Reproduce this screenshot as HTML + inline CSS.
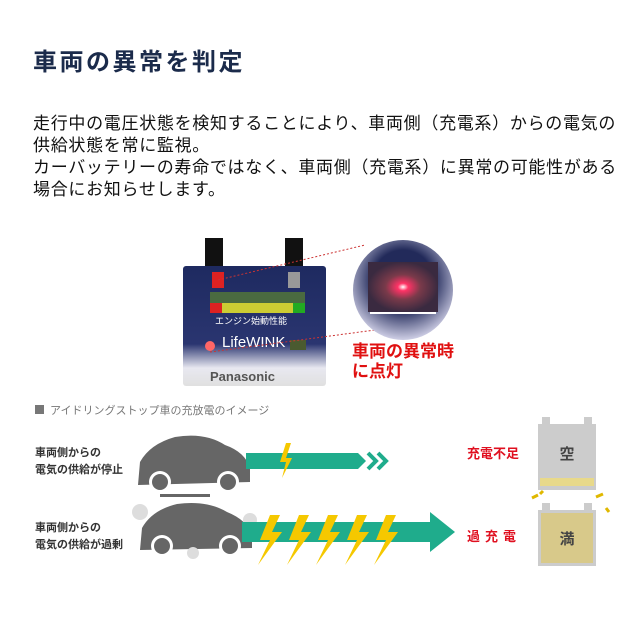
<!DOCTYPE html><html><head><meta charset="utf-8"><style>
body{margin:0;width:640px;height:640px;background:#fff;font-family:"Liberation Sans","Noto Sans CJK JP",sans-serif;position:relative;overflow:hidden}
.a{position:absolute;white-space:nowrap}
</style></head><body>
<div class="a" style="left:33px;top:42px;font-size:24px;letter-spacing:2.5px;font-weight:bold;color:#1b2b4b">車両の異常を判定</div>
<div class="a" style="left:33px;top:113px;font-size:17px;letter-spacing:0.7px;line-height:22px;color:#111">走行中の電圧状態を検知することにより、車両側（充電系）からの電気の<br>供給状態を常に監視。<br>カーバッテリーの寿命ではなく、車両側（充電系）に異常の可能性がある<br>場合にお知らせします。</div>
<svg class="a" style="left:0;top:0" width="640" height="640">
<defs><radialGradient id="g" cx="50%" cy="50%" r="50%"><stop offset="0" stop-color="#fff"/><stop offset="0.15" stop-color="#f36"/><stop offset="0.5" stop-color="#7a3a4a"/><stop offset="1" stop-color="#3a2a40"/></radialGradient>
<radialGradient id="c" cx="50%" cy="40%" r="60%"><stop offset="0.5" stop-color="#222a5a"/><stop offset="1" stop-color="#cfcfe6"/></radialGradient>
<linearGradient id="b" x1="0" y1="0" x2="0" y2="1"><stop offset="0" stop-color="#1e2a60"/><stop offset="0.65" stop-color="#2a3570"/><stop offset="0.85" stop-color="#e8e8f0"/><stop offset="1" stop-color="#e0e0e0"/></linearGradient></defs>
<rect x="205" y="238" width="18" height="32" fill="#111"/><rect x="285" y="238" width="18" height="32" fill="#111"/>
<rect x="183" y="266" width="143" height="120" rx="3" fill="url(#b)"/>
<rect x="212" y="272" width="12" height="16" fill="#d22"/><rect x="288" y="272" width="12" height="16" fill="#999"/>
<rect x="210" y="292" width="95" height="12" fill="#4a6a40"/><rect x="210" y="303" width="95" height="10" fill="#cc3"/><rect x="210" y="303" width="12" height="10" fill="#d22"/><rect x="293" y="303" width="12" height="10" fill="#2a2"/>
<text x="215" y="324" font-size="9" fill="#fff">エンジン始動性能</text>
<text x="222" y="347" font-size="15" fill="#fff">LifeWINK</text>
<circle cx="210" cy="346" r="5" fill="#f66"/><rect x="290" y="340" width="16" height="10" fill="#4a5a30"/>
<text x="210" y="381" font-size="13" font-weight="bold" fill="#555">Panasonic</text>
<line x1="218" y1="280" x2="365" y2="245" stroke="#c33" stroke-dasharray="2,2"/><line x1="210" y1="352" x2="375" y2="330" stroke="#c33" stroke-dasharray="2,2"/>
<circle cx="403" cy="290" r="50" fill="url(#c)"/>
<rect x="368" y="262" width="70" height="50" fill="url(#g)"/><rect x="370" y="312" width="66" height="2" fill="#fff"/>
<text x="352" y="357" font-size="17" font-weight="bold" fill="#e01010">車両の異常時</text>
<text x="352" y="377" font-size="17" font-weight="bold" fill="#e01010">に点灯</text>
<rect x="35" y="405" width="9" height="9" fill="#777"/><text x="50" y="414" font-size="11" fill="#777">アイドリングストップ車の充放電のイメージ</text>
<text x="35" y="456" font-size="11" font-weight="bold" fill="#333">車両側からの</text><text x="35" y="473" font-size="11" font-weight="bold" fill="#333">電気の供給が停止</text>
<text x="35" y="531" font-size="11" font-weight="bold" fill="#333">車両側からの</text><text x="35" y="548" font-size="11" font-weight="bold" fill="#333">電気の供給が過剰</text>
<g fill="#666"><path d="M138 485 L140 462 Q150 444 175 437 Q205 432 225 445 Q245 452 250 468 L250 482 Z"/><circle cx="160" cy="482" r="11" fill="#fff"/><circle cx="160" cy="482" r="8"/><circle cx="228" cy="482" r="11" fill="#fff"/><circle cx="228" cy="482" r="8"/><rect x="160" y="494" width="50" height="3"/></g>
<path d="M246 453 L358 453 L366 461 L358 469 L246 469 Z" fill="#1fac8c"/>
<path d="M368 453 L376 461 L368 469 M378 453 L386 461 L378 469" stroke="#1fac8c" stroke-width="4" fill="none"/>
<path d="M286 443 L280 462 L286 462 L282 478 L292 458 L286 458 L291 443 Z" fill="#f5c800"/>
<g fill="#666"><path d="M140 550 L142 528 Q152 510 177 504 Q207 500 227 512 Q247 520 252 535 L252 548 Z"/><circle cx="162" cy="546" r="11" fill="#fff"/><circle cx="162" cy="546" r="8"/><circle cx="230" cy="546" r="11" fill="#fff"/><circle cx="230" cy="546" r="8"/></g>
<circle cx="140" cy="512" r="8" fill="#ddd"/><circle cx="250" cy="520" r="7" fill="#ddd"/><circle cx="193" cy="553" r="6" fill="#ddd"/>
<path d="M242 522 L430 522 L430 512 L455 532 L430 552 L430 542 L242 542 Z" fill="#1fac8c"/>
<g fill="#f5c800"><path id="z" d="M270 515 L260 540 L270 540 L258 565 L282 532 L272 532 L280 515 Z"/><use href="#z" x="29"/><use href="#z" x="58"/><use href="#z" x="87"/><use href="#z" x="116"/></g>
<text x="467" y="458" font-size="13" font-weight="bold" fill="#e01020">充電不足</text>
<text x="467" y="541" font-size="13" font-weight="bold" fill="#e01020" letter-spacing="5">過充電</text>
<rect x="542" y="417" width="8" height="8" fill="#ccc"/><rect x="584" y="417" width="8" height="8" fill="#ccc"/>
<rect x="538" y="424" width="58" height="66" fill="#ccc"/><rect x="540" y="478" width="54" height="8" fill="#e8d98a"/>
<text x="567" y="459" font-size="15" font-weight="bold" fill="#444" text-anchor="middle">空</text>
<rect x="542" y="503" width="8" height="8" fill="#ccc"/><rect x="584" y="503" width="8" height="8" fill="#ccc"/>
<rect x="538" y="510" width="58" height="56" fill="#ccc"/><rect x="541" y="513" width="52" height="50" fill="#d8c98a"/>
<text x="567" y="544" font-size="15" font-weight="bold" fill="#444" text-anchor="middle">満</text>
<path d="M532 498 l6 -3 M596 497 l7 -3 M606 508 l3 4 M540 494 l3 -3" stroke="#e0b800" stroke-width="3"/>
</svg>
</body></html>
